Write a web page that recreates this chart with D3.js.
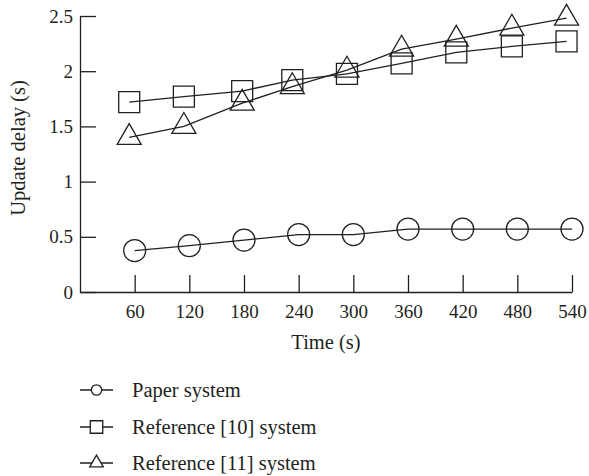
<!DOCTYPE html>
<html>
<head>
<meta charset="utf-8">
<script src="https://cdn.jsdelivr.net/npm/d3@7"></script>
<style>
  html, body { margin: 0; padding: 0; background: #fff; }
  svg { display: block; }
  text { font-family: "Liberation Serif", "DejaVu Serif", serif; fill: #231f20; }
</style>
</head>
<body>
<svg id="chart" width="589" height="476"></svg>
<script>
// ---- data ----
const timeTicks = [60, 120, 180, 240, 300, 360, 420, 480, 540];
const yTicks = [0, 0.5, 1, 1.5, 2, 2.5];
const yTickLabels = ["0", "0.5", "1", "1.5", "2", "2.5"];

const paperTime = [60, 120, 180, 240, 300, 360, 420, 480, 540];
const paperDelay = [0.375, 0.42, 0.47, 0.52, 0.52, 0.57, 0.57, 0.57, 0.57];

const ref10Time = [54, 114, 178, 233, 293, 353, 413, 474, 534];
const ref10Delay = [1.72, 1.77, 1.82, 1.92, 1.975, 2.07, 2.17, 2.225, 2.27];

const ref11Time = [54, 114, 178, 233, 293, 353, 413, 474, 534];
const ref11Delay = [1.40, 1.50, 1.71, 1.86, 2.01, 2.20, 2.29, 2.39, 2.48];

const seriesNames = ["Paper system", "Reference [10] system", "Reference [11] system"];

const xTitle = "Time (s)";
const yTitle = "Update delay (s)";

// ---- layout ----
const svg = d3.select("#chart");
const ink = "#231f20";
const tickFont = 19;
const textFont = 20.5;
const x = d3.scaleLinear().domain([0, 540]).range([80, 572]);
const y = d3.scaleLinear().domain([0, 2.5]).range([292, 16]);

// axes
const xAxis = d3.axisBottom(x).tickValues(timeTicks).tickSize(-17).tickPadding(26).tickSizeOuter(0);
const gx = svg.append("g").attr("transform", `translate(0,${y(0)})`).call(xAxis);
gx.select(".domain").attr("stroke", ink).attr("stroke-width", 1.3);
gx.selectAll(".tick line").attr("stroke", ink).attr("stroke-width", 1.3);
gx.selectAll(".tick text").attr("font-size", tickFont).attr("font-family", "Liberation Serif").attr("fill", ink).attr("dy", "0");

const yAxis = d3.axisLeft(y).tickValues(yTicks).tickFormat((d, i) => yTickLabels[i]).tickSize(-16).tickPadding(7).tickSizeOuter(0);
const gy = svg.append("g").attr("transform", `translate(${x(0)},0)`).call(yAxis);
gy.select(".domain").attr("stroke", ink).attr("stroke-width", 1.3);
gy.selectAll(".tick line").attr("stroke", ink).attr("stroke-width", 1.3);
gy.selectAll(".tick text").attr("font-size", tickFont).attr("font-family", "Liberation Serif").attr("fill", ink).attr("x", -7);

// titles
svg.append("text").attr("x", 326).attr("y", 349).attr("text-anchor", "middle")
  .attr("font-size", textFont).text(xTitle);
svg.append("text").attr("transform", `translate(25,${148}) rotate(-90)`).attr("text-anchor", "middle")
  .attr("font-size", textFont).text(yTitle);

// series
const series = [
  { t: paperTime, v: paperDelay, sym: d3.symbolCircle, size: Math.PI * 11 * 11, lsize: Math.PI * 5.2 * 5.2 },
  { t: ref10Time, v: ref10Delay, sym: d3.symbolSquare, size: 21 * 21, lsize: 12.5 * 12.5 },
  { t: ref11Time, v: ref11Delay, sym: d3.symbolTriangle, size: 250, lsize: 80 }
];

const line = d3.line().x(d => x(d[0])).y(d => y(d[1]));

series.forEach(s => {
  const pts = s.t.map((t, i) => [t, s.v[i]]);
  svg.append("path").datum(pts).attr("d", line)
    .attr("fill", "none").attr("stroke", ink).attr("stroke-width", 1.3);
  svg.selectAll(null).data(pts).enter().append("path")
    .attr("transform", d => `translate(${x(d[0])},${y(d[1])})`)
    .attr("d", d3.symbol().type(s.sym).size(s.size))
    .attr("fill", "none").attr("stroke", ink).attr("stroke-width", 1.3);
});

// legend
const legendRows = [390, 427, 463];
series.forEach((s, i) => {
  const g = svg.append("g").attr("transform", `translate(0,${legendRows[i]})`);
  g.append("line").attr("x1", 80).attr("x2", 113).attr("y1", 0).attr("y2", 0)
    .attr("stroke", ink).attr("stroke-width", 1.3);
  g.append("path").attr("transform", "translate(96.5,0)")
    .attr("d", d3.symbol().type(s.sym).size(s.lsize))
    .attr("fill", "#fff").attr("stroke", ink).attr("stroke-width", 1.3);
  g.append("text").attr("x", 132).attr("y", 0).attr("dy", "0.33em")
    .attr("font-size", textFont).text(seriesNames[i]);
});
</script>
</body>
</html>
